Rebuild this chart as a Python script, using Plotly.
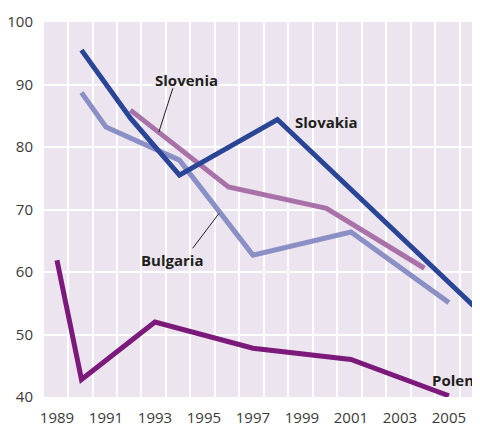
import plotly.graph_objects as go

# Data
slovakia_years = [1990, 1992, 1994, 1998, 2006]
slovakia_vals = [95.5, 84.6, 75.5, 84.4, 54.6]
bulgaria_years = [1990, 1991, 1994, 1997, 2001, 2005]
bulgaria_vals = [88.7, 83.2, 77.9, 62.7, 66.4, 55.1]
slovenia_years = [1992, 1996, 2000, 2004]
slovenia_vals = [85.9, 73.6, 70.2, 60.6]
polen_years = [1989, 1990, 1993, 1997, 2001, 2005]
polen_vals = [61.9, 42.8, 52.0, 47.8, 46.0, 40.2]

x_ticks = [1989, 1991, 1993, 1995, 1997, 1999, 2001, 2003, 2005]
y_ticks = [40, 50, 60, 70, 80, 90, 100]
grid_x = [y + 0.45 for y in range(1988, 2007)]

BG = "#ece5ef"
fig = go.Figure()
series = [
    ("Polen", polen_years, polen_vals, "#7b1a7b"),
    ("Bulgaria", bulgaria_years, bulgaria_vals, "#8a8fc5"),
    ("Slovenia", slovenia_years, slovenia_vals, "#a872a9"),
    ("Slovakia", slovakia_years, slovakia_vals, "#2a4596"),
]
for name, xs, ys, c in series:
    fig.add_trace(go.Scatter(x=xs, y=ys, mode="lines", name=name,
                             line=dict(color=c, width=5), showlegend=False))

lab_font = dict(family="Open Sans", size=15, color="#231f20")
for txt, x, y, anc in [("Slovenia", 1994.27, 90.7, "center"), ("Slovakia", 2000.0, 84.0, "center"),
                       ("Bulgaria", 1993.73, 61.9, "center"), ("Polen", 2006.05, 42.7, "right")]:
    fig.add_annotation(x=x, y=y, text="<b>%s</b>" % txt, showarrow=False,
                       font=lab_font, xanchor=anc, yanchor="middle", borderpad=0)

for x0, y0, x1, y1 in [(1993.73, 89.4, 1993.16, 82.4), (1994.54, 63.8, 1995.62, 69.4)]:
    fig.add_shape(type="line", x0=x0, y0=y0, x1=x1, y1=y1,
                  line=dict(color="#231f20", width=1))

fig.update_layout(
    width=472, height=422,
    margin=dict(l=36, r=0, t=14, b=33),
    paper_bgcolor="white", plot_bgcolor=BG,
    font=dict(family="Open Sans", size=15, color="#3a3a3a"),
)
fig.update_xaxes(range=[1988.47, 2006.27], tickmode="array", tickvals=x_ticks,
                 showgrid=False, zeroline=False, ticks="", ticklabelstandoff=10,
                 minor=dict(tickmode="array", tickvals=grid_x, showgrid=True,
                            gridcolor="white", gridwidth=1.5, ticks=""))
fig.update_yaxes(range=[40, 100], tickmode="array", tickvals=y_ticks,
                 showgrid=True, gridcolor="white", gridwidth=1.5, zeroline=False,
                 ticks="", ticklabelstandoff=10)

fig.write_html("out.html")
